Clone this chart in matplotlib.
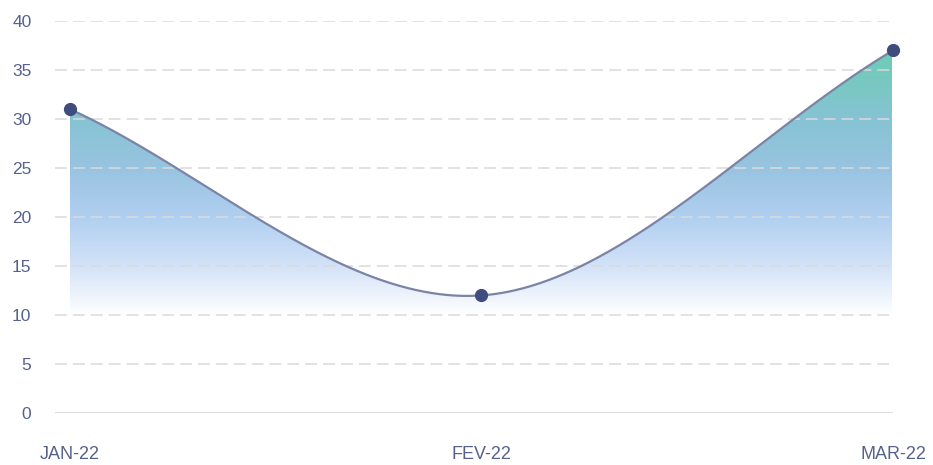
import numpy as np
import matplotlib
matplotlib.use("Agg")
import matplotlib.pyplot as plt
from matplotlib.patches import Polygon
from matplotlib.colors import to_rgba

# ---- data ----
categories = ["JAN-22", "FEV-22", "MAR-22"]
values = [31, 12, 37]
y_ticks = [0, 5, 10, 15, 20, 25, 30, 35, 40]

# gradient stops (value level -> colour)
grad_levels = [37, 30, 25, 20, 15, 10]
grad_colors = ["#6ccdb2", "#86c3d3", "#98c4e0", "#b0cff0", "#d3e2f8", "#ffffff"]

plt.rcParams['font.family'] = ['Liberation Sans', 'DejaVu Sans']

fig = plt.figure(figsize=(9.33, 4.65), dpi=100)
ax = fig.add_axes([55/933, 52/465, 838/933, 392/465])

x = np.arange(len(values), dtype=float)
y = np.array(values, dtype=float)

# Hermite spline: secant slopes at ends, Catmull-Rom in interior
n = len(x)
m = np.zeros(n)
m[0] = (y[1]-y[0])/(x[1]-x[0])
m[-1] = (y[-1]-y[-2])/(x[-1]-x[-2])
for i in range(1, n-1):
    m[i] = (y[i+1]-y[i-1])/(x[i+1]-x[i-1])
xs, ys = [], []
for i in range(n-1):
    t = np.linspace(0, 1, 200)
    h = x[i+1]-x[i]
    h00 = 2*t**3-3*t**2+1
    h10 = t**3-2*t**2+t
    h01 = -2*t**3+3*t**2
    h11 = t**3-t**2
    xs.append(x[i]+t*h)
    ys.append(h00*y[i]+h10*h*m[i]+h01*y[i+1]+h11*h*m[i+1])
xs = np.concatenate(xs)
ys = np.concatenate(ys)

xmin, xmax = -15/412.5, 2 - 2/412.5
ax.set_xlim(xmin, xmax)
ax.set_ylim(0, 40)

# gradient fill
N = 400
yy = np.linspace(0, 40, N)
rgba = np.zeros((N, 1, 4))
lv = np.array(grad_levels[::-1], dtype=float)
cols = np.array([to_rgba(c) for c in grad_colors[::-1]])
for k in range(4):
    rgba[:, 0, k] = np.interp(yy, lv, cols[:, k])
im = ax.imshow(rgba, extent=[xmin, xmax, 0, 40], origin='lower', aspect='auto',
               zorder=1, interpolation='bilinear')
poly = Polygon(np.column_stack([np.r_[xs, x[-1], x[0]], np.r_[ys, 0, 0]]),
               closed=True, transform=ax.transData, facecolor='none', edgecolor='none')
ax.add_patch(poly)
im.set_clip_path(poly)

# grid lines
for t in y_ticks:
    if t == 0:
        ax.axhline(t, color='#dcdcdc', lw=1.5, zorder=2)
    else:
        ax.axhline(t, color='#dadada', lw=1.1, linestyle=(0, (7.8, 3.9)), zorder=2)

ax.plot(xs, ys, color='#7c84a6', lw=1.6, zorder=3, solid_capstyle='round')
ax.plot(x, y, 'o', color='#3e4c7e', markersize=8.5, zorder=4, clip_on=False)

ax.set_xticks(x)
ax.set_xticklabels(categories)
ax.set_yticks(y_ticks)
ax.tick_params(axis='x', length=0, pad=24, labelsize=13, labelcolor='#56628c')
ax.tick_params(axis='y', length=0, pad=17, labelsize=12.5, labelcolor='#56628c')
for s in ax.spines.values():
    s.set_visible(False)

fig.savefig("out.png", dpi=100)
